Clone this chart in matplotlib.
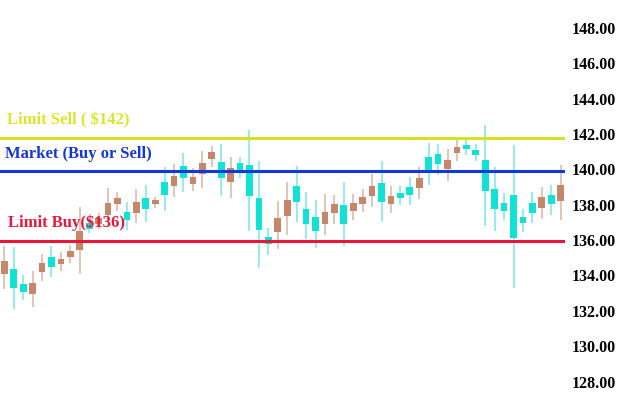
import numpy as np
import matplotlib
matplotlib.use('Agg')
from matplotlib import pyplot as plt

# OHLC values, one candle per slot
opens = [134.08, 134.36, 133.52, 132.95, 134.21, 135.06, 134.65, 135.03, 135.44, 136.97,
         136.91, 137.42, 138.04, 137.61, 137.53, 138.38, 138.04, 139.30, 139.08, 140.19,
         139.19, 139.72, 140.59, 140.40, 139.30, 140.34, 140.25, 138.36, 136.19, 136.47,
         137.38, 139.08, 137.76, 137.32, 136.91, 137.52, 137.99, 137.65, 138.04, 138.51,
         139.21, 138.04, 138.68, 139.02, 138.93, 140.68, 140.85, 140.01, 140.91, 141.38,
         141.10, 140.53, 138.87, 138.12, 138.55, 137.29, 138.08, 137.80, 138.55, 138.21]
highs = [135.67, 135.61, 134.02, 134.27, 135.21, 135.67, 135.33, 135.72, 137.87, 137.19,
         137.53, 138.95, 138.72, 138.17, 138.89, 139.12, 138.45, 140.15, 140.31, 140.93,
         140.08, 141.04, 141.34, 141.42, 140.72, 140.72, 142.23, 140.47, 136.70, 138.21,
         139.30, 140.21, 138.74, 138.27, 138.59, 138.55, 139.27, 138.59, 138.89, 139.72,
         140.47, 139.06, 139.08, 139.59, 140.12, 141.48, 141.44, 141.14, 141.70, 141.76,
         141.44, 142.51, 140.12, 138.68, 141.38, 137.74, 138.74, 139.02, 139.12, 140.25]
lows = [133.23, 132.10, 132.61, 132.23, 133.70, 133.91, 134.27, 134.70, 134.08, 136.40,
        136.63, 137.02, 137.65, 136.57, 136.98, 137.04, 137.82, 137.65, 138.45, 138.74,
        138.78, 138.96, 140.15, 138.51, 138.40, 139.53, 136.51, 134.44, 135.16, 135.50,
        136.29, 137.01, 136.06, 135.57, 136.29, 136.89, 135.68, 137.14, 137.57, 137.89,
        137.01, 137.52, 137.99, 137.99, 138.31, 139.12, 139.68, 139.36, 140.49, 140.81,
        140.49, 136.80, 136.53, 137.14, 133.27, 136.47, 136.95, 137.18, 137.42, 137.14]
closes = [134.83, 133.31, 133.08, 133.56, 134.69, 134.49, 134.93, 135.38, 136.51, 136.63,
          137.25, 138.12, 138.38, 137.14, 138.16, 137.76, 138.27, 138.55, 139.64, 139.53,
          139.55, 140.34, 140.97, 139.53, 140.10, 139.97, 138.51, 136.57, 135.76, 137.27,
          138.27, 138.14, 136.91, 136.51, 137.61, 138.02, 136.91, 138.08, 138.45, 139.08,
          138.17, 138.51, 138.36, 138.55, 139.50, 139.97, 140.31, 140.53, 141.28, 141.14,
          140.80, 138.79, 137.76, 137.66, 136.10, 136.95, 137.52, 138.42, 138.04, 139.12]

# order levels
limit_sell = 141.8
market = 139.93
limit_buy = 135.95
level_labels = ['Limit Sell ( $142)', 'Market (Buy or Sell)', 'Limit Buy($136)']

price_ticks = np.arange(128, 149, 2)

opens = np.array(opens)
closes = np.array(closes)
x = np.arange(len(opens))
up = closes >= opens

body_up, body_dn = '#c4876a', '#10e3d6'
wick_up, wick_dn = '#dcbcac', '#86e9e9'

fig = plt.figure(figsize=(6.24, 4.16), dpi=100)
ax = fig.add_axes([0, 0, 565 / 624, 1])

ax.vlines(x, lows, highs, colors=np.where(up, wick_up, wick_dn), linewidth=1.2, zorder=1)
ax.bar(x, closes - opens, bottom=opens, width=0.72,
       color=np.where(up, body_up, body_dn), edgecolor='none', zorder=2)

ax.axhline(limit_sell, color='#d6e21c', linewidth=2.2, zorder=3)
ax.axhline(market, color='#1437d8', linewidth=2.2, zorder=3)
ax.axhline(limit_buy, color='#e8163a', linewidth=2.2, zorder=3)

ax.set_xlim(-0.46, 59.46)
ax.set_ylim(126.05, 149.58)
ax.set_yticks(price_ticks)
ax.set_yticklabels([f'{t:.2f}' for t in price_ticks],
                   fontfamily='Liberation Serif', fontweight='bold', fontsize=11.5)
ax.yaxis.tick_right()
ax.tick_params(axis='y', length=0, pad=4.5)
ax.set_xticks([])
for s in ax.spines.values():
    s.set_visible(False)

font = dict(family='Liberation Serif', fontweight='bold', fontsize=12, va='center')
fig.text(7 / 624, 1 - 120 / 416, level_labels[0], color='#dbe62a', **font)
fig.text(5 / 624, 1 - 154 / 416, level_labels[1], color='#1437d8', **font)
fig.text(8 / 624, 1 - 223 / 416, level_labels[2], color='#e8163a', **font)

fig.savefig('out.png', dpi=100)
